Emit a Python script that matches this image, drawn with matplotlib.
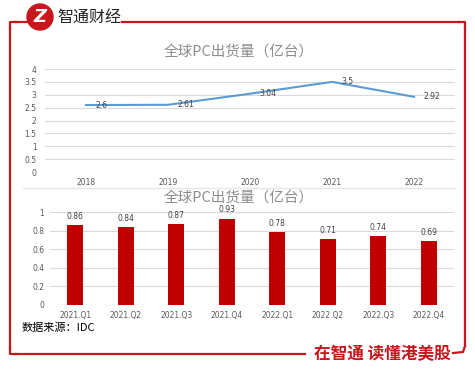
import matplotlib
matplotlib.use('Agg')
import matplotlib.pyplot as plt
from matplotlib.patches import Circle
import numpy as np

plt.rcParams['font.family'] = ['Noto Sans CJK SC', 'DejaVu Sans']

years = ['2018', '2019', '2020', '2021', '2022']
year_values = [2.6, 2.61, 3.04, 3.5, 2.92]

quarters = ['2021.Q1', '2021.Q2', '2021.Q3', '2021.Q4',
            '2022.Q1', '2022.Q2', '2022.Q3', '2022.Q4']
quarter_values = [0.86, 0.84, 0.87, 0.93, 0.78, 0.71, 0.74, 0.69]

title = '全球PC出货量（亿台）'
source = '数据来源：IDC'
brand = '智通财经'
slogan = '在智通 读懂港美股'

W, H = 475, 370
RED = '#C8161D'
GRAY = '#8c8c8c'
GRID = '#d9d9d9'
LATIN = 'DejaVu Sans'

fig = plt.figure(figsize=(W / 100, H / 100), dpi=100)


def px_axes(x0, y0, x1, y1):
    # pixel box (top-left origin) -> figure axes
    return fig.add_axes([x0 / W, 1 - y1 / H, (x1 - x0) / W, (y1 - y0) / H])


# decoration layer
deco = fig.add_axes([0, 0, 1, 1])
deco.set_xlim(0, W)
deco.set_ylim(H, 0)
deco.axis('off')

lw = 1.6
deco.plot([10, 10], [28, 348], color=RED, lw=lw)
deco.plot([16, 28], [22, 22], color=RED, lw=lw)
deco.plot([122, 459], [22, 22], color=RED, lw=lw)
deco.plot([465, 465], [28, 346], color=RED, lw=lw)
deco.plot([16, 305], [354, 354], color=RED, lw=lw)
deco.plot([10, 10, 16], [28, 22, 22], color=RED, lw=lw)
deco.plot([459, 465, 465], [22, 22, 28], color=RED, lw=lw)
deco.plot([10, 10, 16], [348, 354, 354], color=RED, lw=lw)
deco.plot([465, 463, 453], [346, 352, 353], color=RED, lw=lw)

deco.add_patch(Circle((40, 17), 13, color=RED, zorder=3))
deco.text(40, 17.5, 'Z', color='white', fontsize=13, fontweight='bold',
          fontstyle='italic', ha='center', va='center', family=LATIN, zorder=4)
deco.text(57, 18, brand, fontsize=11.5, color='#222222', ha='left', va='center')
deco.text(451, 354, slogan, fontsize=12, color=RED, fontweight='bold',
          ha='right', va='center')

deco.plot([23, 455], [188, 188], color='#e6e6e6', lw=1)

deco.text(239, 53, title, fontsize=10.5, color=GRAY, ha='center', va='center')
deco.text(239, 199, title, fontsize=10.5, color=GRAY, ha='center', va='center')
deco.text(22, 328, source, fontsize=8, color='black', ha='left', va='center')

# top line chart
ax1 = px_axes(45, 69, 455, 172)
x = np.arange(len(years))
ax1.plot(x, year_values, color='#5B9BD5', lw=1.5)
for i, v in enumerate(year_values):
    ax1.annotate('{:g}'.format(v), (i, v), xytext=(7, 0), textcoords='offset points',
                 fontsize=5.5, color='#404040', ha='left', va='center', family=LATIN)
ax1.set_xlim(-0.5, len(years) - 0.5)
ax1.set_ylim(0, 4)
ax1.set_yticks(np.arange(0, 4.01, 0.5))
ax1.set_yticklabels(['{:g}'.format(t) for t in np.arange(0, 4.01, 0.5)], family=LATIN)
ax1.set_xticks(x)
ax1.set_xticklabels(years, family=LATIN)
ax1.grid(axis='y', color=GRID, lw=0.8)
ax1.set_axisbelow(True)
for s in ax1.spines.values():
    s.set_visible(False)
ax1.tick_params(length=0, labelsize=5.5, labelcolor='#595959', pad=4)
ax1.tick_params(axis='y', pad=6)
ax1.patch.set_alpha(0)

# bottom bar chart
ax2 = px_axes(50, 212, 454, 305)
xb = np.arange(len(quarters))
ax2.bar(xb, quarter_values, width=0.32, color='#C00000')
for i, v in enumerate(quarter_values):
    ax2.annotate('{:g}'.format(v), (i, v), xytext=(0, 3), textcoords='offset points',
                 fontsize=5.5, color='#404040', ha='center', va='bottom', family=LATIN)
ax2.set_xlim(-0.5, len(quarters) - 0.5)
ax2.set_ylim(0, 1)
ax2.set_yticks(np.arange(0, 1.01, 0.2))
ax2.set_yticklabels(['{:g}'.format(round(t, 1)) for t in np.arange(0, 1.01, 0.2)],
                    family=LATIN)
ax2.set_xticks(xb)
ax2.set_xticklabels(quarters, family=LATIN)
ax2.grid(axis='y', color=GRID, lw=0.8)
ax2.set_axisbelow(True)
for s in ax2.spines.values():
    s.set_visible(False)
ax2.tick_params(length=0, labelsize=5.5, labelcolor='#595959', pad=4)
ax2.patch.set_alpha(0)

fig.savefig('out.png', dpi=100)
